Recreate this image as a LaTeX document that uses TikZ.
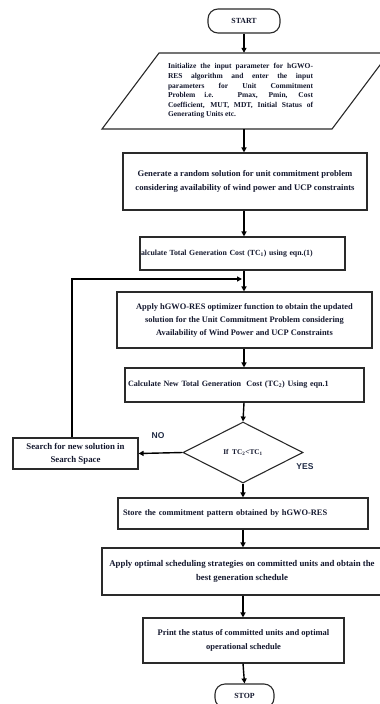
\documentclass[tikz,border=0pt]{standalone}
\usepackage{fontspec}
\setmainfont{Liberation Serif}
\setsansfont{Liberation Sans}
\usetikzlibrary{shapes.geometric,arrows.meta}
\definecolor{boxc}{HTML}{2A2A2A}
\definecolor{txt}{HTML}{14182E}
\definecolor{lblc}{HTML}{1F2A44}
\newcommand{\fs}[2]{\fontsize{#1}{#2}\selectfont\bfseries}
\begin{document}
\begin{tikzpicture}[x=1pt,y=-1pt,
  box/.style={draw=boxc, line width=1.1pt, rectangle, inner sep=0pt,
    font=\fs{8.4}{14}, align=center, text=txt},
  term/.style={box, rounded corners=10pt},
  arr/.style={line width=1.4pt, -{Triangle[length=5pt,width=5pt]}},
  lbl/.style={font=\sffamily\bfseries\fontsize{8.5}{10}\selectfont, text=lblc}]
\useasboundingbox (0,0) rectangle (380,704);
\clip (0,0) rectangle (380,704);

% terminals
\node[term, minimum width=72pt, minimum height=24pt, font=\fs{7.8}{10}] (start) at (244,21) {START};
\node[term, minimum width=59pt, minimum height=24pt, font=\fs{7.8}{10}] (stop) at (244.5,696) {STOP};

% input parallelogram
\draw[draw=boxc, line width=1.1pt] (102,129) -- (159,53) -- (389,53) -- (332,129) -- cycle;
\node[inner sep=0pt, minimum height=76pt, text width=145pt, align=justify, text=txt,
  font=\fs{7.5}{9.6}] (para) at (240.5,91)
  {Initialize the input parameter for hGWO-\linebreak RES algorithm and enter the input\linebreak parameters for Unit Commitment\linebreak Problem i.e. Pmax, Pmin, Cost\linebreak Coefficient, MUT, MDT, Initial Status of\linebreak Generating Units etc.};

% process boxes
\node[box, minimum width=244pt, minimum height=57pt, font=\fs{8.6}{14}] (gen) at (245,181.5)
  {Generate a random solution for unit commitment problem\\considering availability of wind power and UCP constraints};
\node[box, minimum width=205pt, minimum height=33pt, align=left, text width=203pt, font=\fs{7.8}{14}] (calc1) at (242.5,253.5)
  {alculate Total Generation Cost (TC\textsubscript{1}) using eqn.(1)};
\node[box, minimum width=255pt, minimum height=56pt, font=\fs{8.4}{13}] (apply) at (244.5,320)
  {Apply hGWO-RES optimizer function to obtain the updated\\solution for the Unit Commitment Problem considering\\Availability of Wind Power and UCP Constraints};
\node[box, minimum width=239pt, minimum height=34pt, align=left, text width=233pt, font=\fs{8.1}{14}] (calc2) at (244.5,385)
  {Calculate New Total Generation~ Cost (TC\textsubscript{2}) Using eqn.1};
\node[draw=boxc, line width=1.1pt, diamond, minimum width=120pt, minimum height=61pt, inner sep=0pt,
  font=\fs{7.3}{9}, text=txt] (cond) at (243,452.5)
  {If~ TC\textsubscript{2}<TC\textsubscript{1}};
\node[box, minimum width=125pt, minimum height=31pt, font=\fs{8.8}{13}] (search) at (75.5,453.5)
  {Search for new solution in\\Search Space};
\node[box, minimum width=250pt, minimum height=31pt, align=left, text width=240pt, font=\fs{8.4}{14}] (store) at (243,513.5)
  {Store the commitment pattern obtained by hGWO-RES};
\node[box, minimum width=280pt, minimum height=47pt, font=\fs{8.8}{14}] (sched) at (242,571.5)
  {Apply optimal scheduling strategies on committed units and obtain the\\best generation schedule};
\node[box, minimum width=201pt, minimum height=45pt, font=\fs{8.5}{14}] (print) at (243.5,640.5)
  {Print the status of committed units and optimal\\operational schedule};

% labels
\node[lbl] (no) at (158,436) {NO};
\node[lbl] (yes) at (305,467) {YES};

% connectors
\draw[arr] (start.south) -- (start.south |- para.north);
\draw[arr] (start.south |- para.south) -- (start.south |- gen.north);
\draw[arr] (start.south |- gen.south) -- (start.south |- calc1.north);
\draw[arr] (start.south |- calc1.south) -- (start.south |- apply.north);
\draw[arr] (start.south |- apply.south) -- (start.south |- calc2.north);
\draw[arr] (start.south |- calc2.south) -- (cond.north);
\draw[arr] (cond.west) -- (search.east);
\draw[arr] (cond.south) -- (cond.south |- store.north);
\draw[arr] (cond.south |- store.south) -- (cond.south |- sched.north);
\draw[arr] (cond.south |- sched.south) -- (cond.south |- print.north);
\draw[arr] (cond.south |- print.south) -- (stop.north);
\coordinate (loop) at (242,279);
\coordinate (loopcorner) at (72,279);
\draw[arr] (search.north -| loopcorner) -- (loopcorner) -- (loop);
\end{tikzpicture}
\end{document}
